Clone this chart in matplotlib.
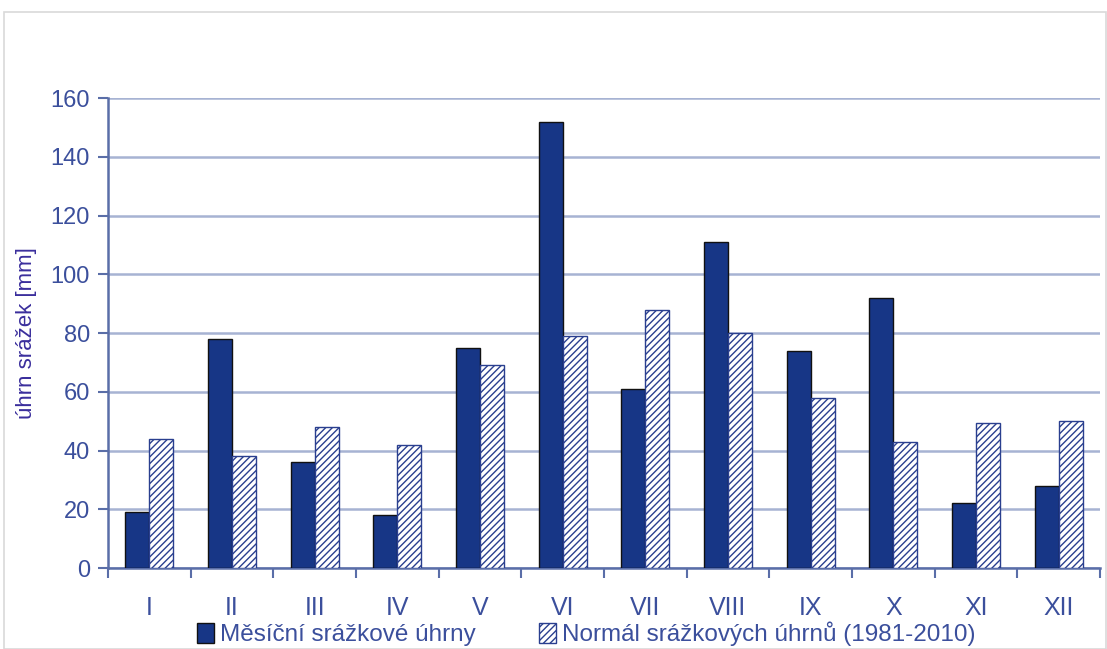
import matplotlib.pyplot as plt
import numpy as np

plt.rcParams['font.family'] = ['Liberation Sans', 'DejaVu Sans']
plt.rcParams['hatch.color'] = '#2a3f8f'
plt.rcParams['hatch.linewidth'] = 1.0

months = ["I", "II", "III", "IV", "V", "VI", "VII", "VIII", "IX", "X", "XI", "XII"]
monthly = [19, 78, 36, 18, 75, 152, 61, 111, 74, 92, 22, 28]
normal = [44, 38, 48, 42, 69, 79, 88, 80, 58, 43, 49.5, 50]

text_col = '#3b4f9c'
axis_col = '#5a6ea8'
grid_col = '#a7b3d3'

fig = plt.figure(figsize=(11.07, 6.49), dpi=100)
# light frame around the chart
fig.patches.append(plt.Rectangle((0.004, 0.0), 0.995, 0.982, transform=fig.transFigure,
                                 fill=False, edgecolor='#d9d9d9', linewidth=1.2))
ax = fig.add_axes([0.0976, 0.1248, 0.896, 0.724])

x = np.arange(len(months))
w = 0.29
ax.bar(x - w / 2, monthly, w, color='#173686', edgecolor='#111111', linewidth=1.0,
       label='Měsíční srážkové úhrny', zorder=3)
ax.bar(x + w / 2, normal, w, color='white', edgecolor='#2a3f8f', hatch='/////',
       linewidth=1.0, label='Normál srážkových úhrnů (1981-2010)', zorder=3)

ax.set_xlim(-0.5, len(months) - 0.5)
ax.set_ylim(0, 160)
ax.set_yticks(range(0, 161, 20))
ax.yaxis.grid(True, color=grid_col, linewidth=1.8, zorder=0)

ax.set_xticks(x)
ax.set_xticklabels(months)
ax.tick_params(axis='x', length=0, pad=20, labelsize=18, labelcolor=text_col)
ax.set_xticks(np.arange(-0.5, len(months)), minor=True)
ax.tick_params(axis='x', which='minor', length=7, width=1.5, color=axis_col, direction='out')
ax.tick_params(axis='y', length=7, width=1.5, color=axis_col, labelsize=17,
               labelcolor=text_col, pad=6)

for s in ['top', 'right']:
    ax.spines[s].set_visible(False)
for s in ['left', 'bottom']:
    ax.spines[s].set_color(axis_col)
    ax.spines[s].set_linewidth(1.8)

ax.set_ylabel('úhrn srážek [mm]', color='#3a2e9c', fontsize=16, labelpad=10)

ax.legend(loc='center', bbox_to_anchor=(0.482, -0.14), ncol=2, frameon=False,
          fontsize=17.5, handlelength=0.7, handleheight=0.9, handletextpad=0.25,
          columnspacing=2.6, borderaxespad=0, borderpad=0, labelcolor=text_col)

fig.savefig('out.png', dpi=100)
